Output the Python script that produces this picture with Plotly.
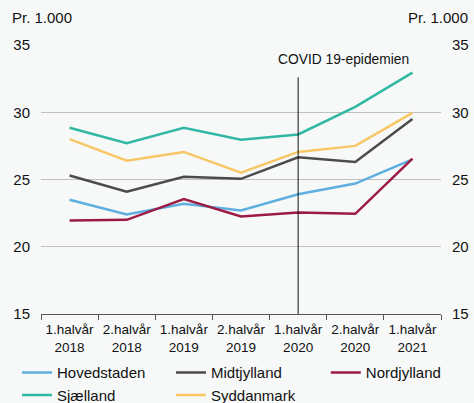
import plotly.graph_objects as go

categories = ["1.halvår<br>2018", "2.halvår<br>2018", "1.halvår<br>2019", "2.halvår<br>2019",
              "1.halvår<br>2020", "2.halvår<br>2020", "1.halvår<br>2021"]
hovedstaden = [23.5, 22.4, 23.2, 22.7, 23.9, 24.7, 26.5]
midtjylland = [25.3, 24.1, 25.2, 25.05, 26.65, 26.3, 29.5]
nordjylland = [21.95, 22.0, 23.55, 22.25, 22.55, 22.45, 26.55]
sjaelland = [28.85, 27.7, 28.85, 27.95, 28.35, 30.4, 32.95]
syddanmark = [28.0, 26.4, 27.05, 25.5, 27.05, 27.5, 29.95]
y_ticks = [15, 20, 25, 30, 35]
covid_category = "1.halvår<br>2020"
covid_label = "COVID 19-epidemien"

# (name, values, colour, legend column)
series = [
    ("Hovedstaden", hovedstaden, "#5faee0", "legend"),
    ("Midtjylland", midtjylland, "#4b4b4e", "legend2"),
    ("Nordjylland", nordjylland, "#9c1b45", "legend3"),
    ("Sjælland", sjaelland, "#31b8a4", "legend"),
    ("Syddanmark", syddanmark, "#f8c765", "legend2"),
]

FONT = "Liberation Sans, Arial, sans-serif"
fig = go.Figure()
for name, vals, col, leg in series:
    fig.add_trace(go.Scatter(x=categories, y=vals, name=name, mode="lines", legend=leg,
                             line=dict(color=col, width=2.5)))
# transparent trace to carry the right-hand axis
fig.add_trace(go.Scatter(x=categories, y=hovedstaden, yaxis="y2", mode="lines",
                         line=dict(color="rgba(0,0,0,0)"), showlegend=False,
                         hoverinfo="skip"))

fig.add_shape(type="line", xref="x", yref="y", x0=covid_category, x1=covid_category,
              y0=15, y1=32.6, line=dict(color="#111", width=1))
fig.add_annotation(x=covid_category, y=33.95, xref="x", yref="y", text=covid_label,
                   showarrow=False, xshift=45, font=dict(size=13.8, color="#111", family=FONT))
fig.add_annotation(x=0, y=1, xref="paper", yref="paper", xshift=-31, yshift=38,
                   text="Pr. 1.000", showarrow=False, xanchor="left",
                   font=dict(size=15, color="#111", family=FONT))
fig.add_annotation(x=1, y=1, xref="paper", yref="paper", xshift=29, yshift=38,
                   text="Pr. 1.000", showarrow=False, xanchor="right",
                   font=dict(size=15, color="#111", family=FONT))

leg_common = dict(orientation="v", xanchor="left", y=-0.157, yanchor="top",
                  font=dict(size=15, color="#111"), bgcolor="rgba(0,0,0,0)",
                  tracegroupgap=0)
fig.update_layout(
    width=474, height=403,
    margin=dict(l=41, r=33, t=45, b=89, autoexpand=False),
    paper_bgcolor="#f7f9f9", plot_bgcolor="#f7f9f9",
    font=dict(family=FONT, color="#111"),
    showlegend=True,
    legend=dict(x=-0.06, **leg_common),
    legend2=dict(x=0.325, **leg_common),
    legend3=dict(x=0.712, **leg_common),
    xaxis=dict(type="category", range=[-0.5, 6.5], showgrid=False, showline=True,
               linecolor="#555", linewidth=1, ticks="outside", tickson="boundaries",
               ticklen=5, tickcolor="#555", tickangle=0, ticklabelstandoff=3,
               tickfont=dict(size=13.5, color="#111"), zeroline=False),
    yaxis=dict(range=[15, 35], tickvals=y_ticks, showgrid=True, gridcolor="#c0c0c0",
               gridwidth=1, zeroline=False, showline=False, ticks="",
               ticklabelstandoff=10, tickfont=dict(size=15, color="#111")),
    yaxis2=dict(range=[15, 35], tickvals=y_ticks, overlaying="y", side="right",
                showgrid=False, zeroline=False, showline=False, ticks="",
                ticklabelstandoff=10, tickfont=dict(size=15, color="#111")),
)
fig.write_html("out.html", config={"displayModeBar": False},
               post_script="document.body.style.margin='0';")
